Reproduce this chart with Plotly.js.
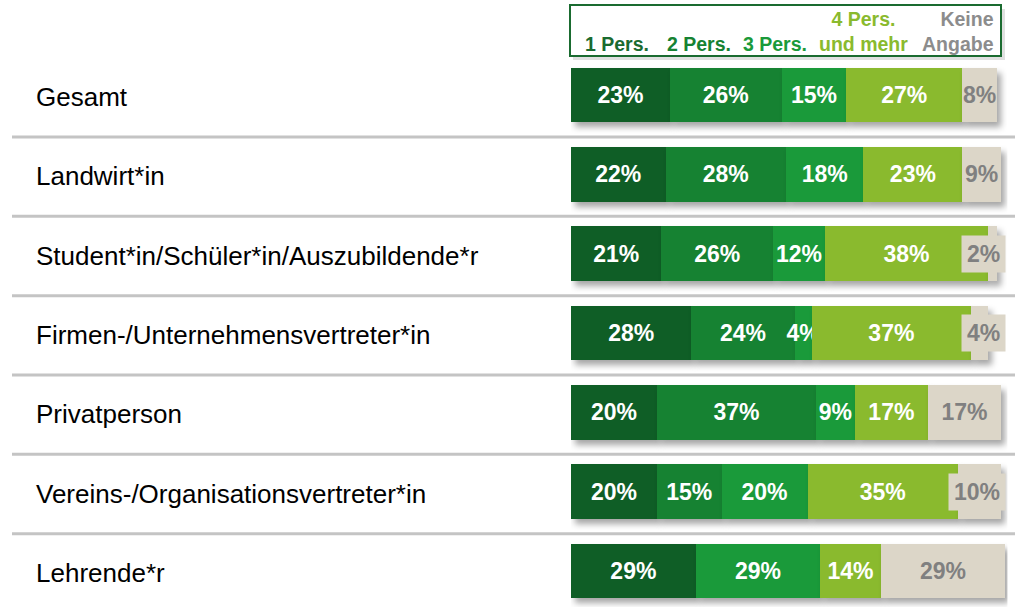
<!DOCTYPE html>
<html>
<head>
<meta charset="utf-8">
<script src="https://cdn.plot.ly/plotly-3.0.1.min.js"></script>
<style>
html,body{margin:0;padding:0;background:#fff;}
#chart{width:1015px;height:607px;}
.barlayer .point path{filter:drop-shadow(4px 5px 3px rgba(0,0,0,0.35));}
</style>
</head>
<body>
<div id="chart"></div>
<script>
const categories = ['Gesamt','Landwirt*in','Student*in/Schüler*in/Auszubildende*r','Firmen-/Unternehmensvertreter*in','Privatperson','Vereins-/Organisationsvertreter*in','Lehrende*r'];
const seriesNames = ['1 Pers.','2 Pers.','3 Pers.','4 Pers.<br>und mehr','Keine<br>Angabe'];
const pers1 = [23,22,21,28,20,20,29];
const pers2 = [26,28,26,24,37,15,0];
const pers3 = [15,18,12,4,9,20,29];
const pers4 = [27,23,38,37,17,35,14];
const keineAngabe = [8,9,2,4,17,10,29];

const colors = ['#0f5e26','#168232','#1a9a3a','#8aba2e','#dcd6c8'];
const legendColors = ['#1a6b30','#168232','#1a9a3a','#8aba2e','#8c8c8c'];
const FONT = '"Liberation Sans", Arial, sans-serif';
const W = 1015, H = 607;

const allSeries = [pers1,pers2,pers3,pers4,keineAngabe];
// whether the label fits in its segment (for the "Keine Angabe" series it is placed in a box at the right otherwise)
const fits = v => (v < 10 ? v >= 8 : v >= 13);

const traces = allSeries.map((vals, si) => {
  const isKeine = si === 4;
  return {
    type: 'bar', orientation: 'h',
    y: categories, x: vals,
    name: seriesNames[si],
    marker: {color: colors[si], line: {width: 0}},
    width: 0.69,
    text: vals.map(v => (v > 0 && (!isKeine || fits(v))) ? v + '%' : ''),
    textposition: 'inside', insidetextanchor: 'middle', textangle: 0,
    insidetextfont: {family: FONT, size: 23, color: isKeine ? '#808080' : '#ffffff', weight: 'bold'},
    cliponaxis: false,
    hoverinfo: 'skip'
  };
});

const px = x => x / W;
const py = y => 1 - y / H;

const shapes = [];
// separators between rows
for (let i = 0; i < categories.length - 1; i++) {
  shapes.push({type: 'line', xref: 'paper', yref: 'y', x0: px(12), x1: 1, y0: i + 0.53, y1: i + 0.53,
    line: {color: '#c4c4c4', width: 3}, layer: 'below'});
}
// legend box shadow + frame
shapes.push({type: 'rect', xref: 'paper', yref: 'paper', x0: px(573), x1: px(1005), y0: py(60), y1: py(9),
  fillcolor: 'rgba(0,0,0,0.12)', line: {width: 0}, layer: 'below'});
shapes.push({type: 'rect', xref: 'paper', yref: 'paper', x0: px(570), x1: px(1001), y0: py(56), y1: py(5),
  fillcolor: '#ffffff', line: {color: '#1a6b30', width: 2}, layer: 'below'});

const annotations = [];
// category labels
categories.forEach(c => {
  annotations.push({xref: 'paper', yref: 'y', x: px(34), y: c, yshift: -2, text: c, showarrow: false,
    xanchor: 'left', yanchor: 'middle', font: {family: FONT, size: 26, color: '#000000'}});
});
// boxed labels for "Keine Angabe" that do not fit
keineAngabe.forEach((v, i) => {
  if (v > 0 && !fits(v)) {
    annotations.push({xref: 'paper', yref: 'y', x: px(1006), y: categories[i], text: v + '%', showarrow: false,
      xanchor: 'right', yanchor: 'middle', bgcolor: '#dcd6c8', borderpad: 5,
      font: {family: FONT, size: 23, color: '#808080', weight: 'bold'}});
  }
});
// legend texts
const legX = [617, 699, 775, 863, 996];
const legAnchor = ['center','center','center','center','right'];
seriesNames.forEach((n, i) => {
  const twoLine = n.indexOf('<br>') >= 0;
  annotations.push({xref: 'paper', yref: 'paper', x: px(legX[i]), y: py(twoLine ? 31 : 44), text: '<b>' + n + '</b>',
    showarrow: false, xanchor: legAnchor[i], yanchor: 'middle', align: legAnchor[i],
    font: {family: FONT, size: 19.5, color: legendColors[i]}});
});

const layout = {
  width: W, height: H,
  margin: {l: 0, r: 0, t: 0, b: 0},
  paper_bgcolor: '#ffffff', plot_bgcolor: 'rgba(0,0,0,0)',
  barmode: 'stack', showlegend: false,
  xaxis: {domain: [px(571), px(571 + 4.3 * 101.5)], range: [0, 101.5], showgrid: false, zeroline: false, showticklabels: false, fixedrange: true},
  yaxis: {type: 'category', range: [6.454, -1.1975], showgrid: false, zeroline: false, showticklabels: false, fixedrange: true},
  uniformtext: {mode: 'show', minsize: 23},
  shapes: shapes,
  annotations: annotations,
  font: {family: FONT}
};

Plotly.newPlot('chart', traces, layout, {displayModeBar: false, staticPlot: true});
</script>
</body>
</html>
